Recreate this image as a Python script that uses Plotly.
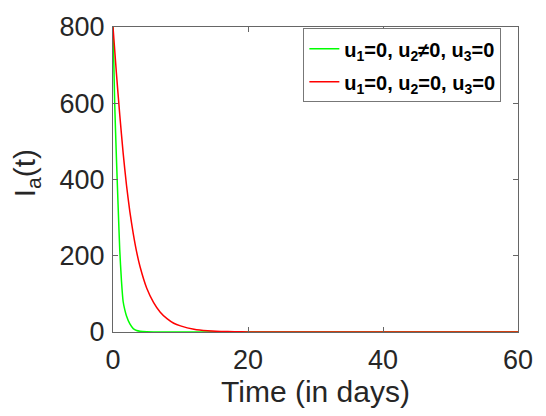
import plotly.graph_objects as go

# Time points (days) and values
t_green = [0, 0.25, 0.5, 0.75, 1.0, 1.25, 1.5, 1.75, 2.0, 2.5, 3.0, 3.5, 4.0, 5.0, 6.0, 8.0, 10, 15, 20, 30, 40, 50, 60]
ia_green = [800, 600, 460, 335, 215, 135, 80, 58, 42, 21, 9, 4, 2, 0.5, 0.1, 0, 0, 0, 0, 0, 0, 0, 0]

t_red = [0, 0.5, 1.0, 1.5, 2.0, 2.5, 3.0, 3.5, 4.0, 5.0, 6.0, 7.0, 8.0, 9.0, 10, 12, 14, 16, 18, 20, 25, 30, 40, 50, 60]
ia_red = [800, 680, 570, 470, 385, 315, 258, 210, 172, 115, 78, 52, 35, 23, 16, 7, 3, 1.5, 0.7, 0.3, 0, 0, 0, 0, 0]

name_green = "u<sub>1</sub>=0, u<sub>2</sub>≠0, u<sub>3</sub>=0"
name_red = "u<sub>1</sub>=0, u<sub>2</sub>=0, u<sub>3</sub>=0"

x_ticks = [0, 20, 40, 60]
y_ticks = [0, 200, 400, 600, 800]

FONT = "Liberation Sans, Arial, Helvetica, sans-serif"
TXT = "#262626"

fig = go.Figure()
fig.add_trace(go.Scatter(x=t_green, y=ia_green, mode="lines", name=name_green, legendgroup="g",
                         line=dict(color="#00ff00", width=1.5, shape="spline", smoothing=0.6)))
fig.add_trace(go.Scatter(x=t_red, y=ia_red, mode="lines", name=name_red, legendgroup="r",
                         line=dict(color="#ff0000", width=1.5, shape="spline", smoothing=0.6)))

axis_common = dict(
    showgrid=False, zeroline=False, showline=True, linecolor="#666666", linewidth=1,
    mirror="ticks", ticks="inside", ticklen=5, tickcolor="#666666", tickwidth=1,
    tickfont=dict(family=FONT, size=27, color=TXT),
)

fig.update_layout(
    width=546, height=416,
    margin=dict(l=113, r=28, t=18, b=84),
    paper_bgcolor="white", plot_bgcolor="white",
    showlegend=True,
    legend=dict(
        x=0.47, y=0.996, xanchor="left", yanchor="top",
        bgcolor="white", bordercolor="#777777", borderwidth=1,
        font=dict(family=FONT, size=20, color="black", weight="bold"),
        tracegroupgap=4,
    ),
    xaxis=dict(range=[0, 60], tickvals=x_ticks, ticklabelstandoff=4,
               title=dict(text="Time (in days)", font=dict(family=FONT, size=30, color=TXT), standoff=6),
               **axis_common),
    yaxis=dict(range=[0, 800], tickvals=y_ticks, ticklabelstandoff=2,
               **axis_common),
    annotations=[dict(
        text="I<sub>a</sub>(t)", textangle=-90, xref="paper", yref="paper",
        x=-0.215, y=0.52, xanchor="center", yanchor="middle", showarrow=False,
        font=dict(family=FONT, size=30, color=TXT),
    )],
)

fig.write_html("out.html")
